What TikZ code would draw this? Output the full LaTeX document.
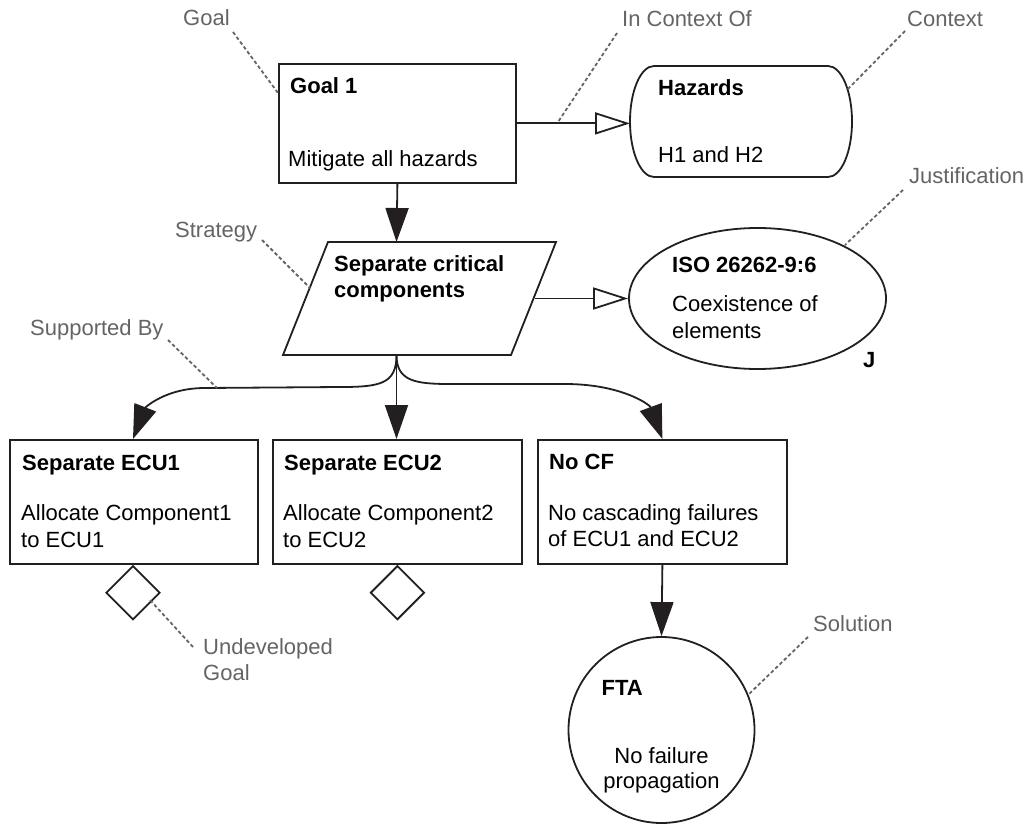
\documentclass[tikz,border=0pt]{standalone}
\usepackage{fontspec}
\setmainfont{Liberation Sans}
\usetikzlibrary{arrows.meta,shapes.geometric}
\definecolor{ink}{RGB}{35,31,32}
\definecolor{notegray}{RGB}{100,100,100}
\definecolor{dotgray}{RGB}{100,100,100}
\begin{document}
\begin{tikzpicture}[x=1pt,y=-1pt,
  every node/.style={font=\fontsize{22}{27}\selectfont},
  outline/.style={draw=ink, line width=1.8pt},
  box/.style={outline, rectangle, inner sep=0pt, anchor=north west},
  title/.style={anchor=base west, inner sep=0pt, font=\fontsize{22}{27}\selectfont\bfseries},
  body/.style={anchor=base west, inner sep=0pt},
  note/.style={anchor=base west, inner sep=0pt, text=notegray},
  pointer/.style={draw=dotgray, line width=1.8pt, dash pattern=on 3.5pt off 2.5pt},
  supported/.style={draw=ink, line width=1.8pt, -{Triangle[length=34pt,width=23pt]}},
  incontext/.style={draw=ink, line width=1.8pt, -{Triangle[open,length=35pt,width=22pt,fill=white]}},
]
\useasboundingbox (0,0) rectangle (1027,824);

% ---------- goal ----------
\node[box, minimum width=237pt, minimum height=119pt] (g1) at (278,63) {};
\node[title] (g1t) at (290,94) {Goal 1};
\node[body] (g1d) at (288,166) {Mitigate all hazards};

% ---------- context ----------
\node[rectangle, inner sep=0pt, anchor=north west, minimum width=222pt, minimum height=111pt] (haz) at (630,66) {};
\draw[outline] (654,66) -- (828,66)
  arc[start angle=90, end angle=-90, x radius=24pt, y radius=55.5pt]
  -- (654,177)
  arc[start angle=270, end angle=90, x radius=24pt, y radius=55.5pt] -- cycle;
\node[title] (hazt) at (658,96) {Hazards};
\node[body] (hazd) at (658,162) {H1 and H2};

% ---------- strategy ----------
\draw[outline] (328,242) -- (556,242) -- (511,355) -- (283,355) -- cycle;
\coordinate (strTop) at (396.5,242);
\coordinate (strBot) at (396.5,355);
\coordinate (strRight) at (535,298.5);
\node[title] (strt1) at (334,271) {Separate critical};
\node[title] (strt2) at (334,297) {components};

% ---------- justification ----------
\node[outline, ellipse, minimum width=257pt, minimum height=141pt, inner sep=0pt] (iso) at (757.5,298.5) {};
\node[title] (isot) at (672,272) {ISO 26262-9:6};
\node[body] (isod1) at (672,311) {Coexistence of};
\node[body] (isod2) at (672,338) {elements};
\node[title] (isoj) at (863,367) {J};

% ---------- sub-goals ----------
\node[box, minimum width=248pt, minimum height=124pt] (ecu1) at (9,439) {};
\node[title] (ecu1t) at (22,470) {Separate ECU1};
\node[body] (ecu1d1) at (21,520) {Allocate Component1};
\node[body] (ecu1d2) at (21,547) {to ECU1};

\node[box, minimum width=249pt, minimum height=124pt] (ecu2) at (272,439) {};
\node[title] (ecu2t) at (284,470) {Separate ECU2};
\node[body] (ecu2d1) at (283,520) {Allocate Component2};
\node[body] (ecu2d2) at (283,547) {to ECU2};

\node[box, minimum width=249pt, minimum height=124pt] (nocf) at (537,439) {};
\node[title] (nocft) at (549,469) {No CF};
\node[body] (nocfd1) at (548,520) {No cascading failures};
\node[body] (nocfd2) at (548,546) {of ECU1 and ECU2};

% undeveloped markers
\coordinate (e1in) at (133,439);
\node[outline, diamond, minimum width=54pt, minimum height=54pt, inner sep=0pt, anchor=north] (und1) at (e1in |- ecu1.south) {};
\node[outline, diamond, minimum width=54pt, minimum height=54pt, inner sep=0pt, anchor=north] (und2) at (ecu2.south) {};

% ---------- solution ----------
\node[outline, circle, minimum size=186pt, inner sep=0pt] (fta) at (661.5,730) {};
\node[title, anchor=base east] (ftat) at (643,695) {FTA};
\node[inner sep=0pt, anchor=base] (ftad1) at (661.5,763) {No failure};
\node[inner sep=0pt, anchor=base] (ftad2) at (661.5,788) {propagation};

% ---------- connectors ----------
\draw[supported] (g1.south) -- (strTop);
\draw[incontext] (g1.east) -- (g1.east -| haz.west);
\draw[incontext] (strRight) -- (iso.west);
\draw[supported] (strBot) .. controls (396.5,384) and (380,387) .. (340,387)
  -- (205,388) .. controls (165,388) and (145,408) .. (e1in);
\draw[supported] (strBot) -- (strBot |- ecu2.north);
\draw[supported] (strBot) .. controls (396.5,381) and (415,384) .. (450,384)
  -- (565,384) .. controls (622,384) and (650,405) .. (nocf.north);
\draw[supported] (nocf.south) -- (fta.north);

% ---------- element annotations ----------
\node[note] (nGoal) at (183,26) {Goal};
\node[note] (nInCtx) at (622,27) {In Context Of};
\node[note] (nCtx) at (907,27) {Context};
\node[note] (nJust) at (909,183) {Justification};
\node[note] (nStrat) at (175,237) {Strategy};
\node[note] (nSupp) at (30,335) {Supported By};
\node[note] (nUnd1) at (203,654) {Undeveloped};
\node[note] (nUnd2) at (203,680) {Goal};
\node[note] (nSol) at (813,631) {Solution};

\coordinate (pGoalA) at (233,32);   \coordinate (pGoalB) at (278,93);
\coordinate (pInA) at (617,33);     \coordinate (pInB) at (558,122);
\coordinate (pCtxA) at (905,31);    \coordinate (pCtxB) at (847,90);
\coordinate (pJusA) at (903,190);   \coordinate (pJusB) at (845,245);
\coordinate (pStrA) at (262,240);   \coordinate (pStrB) at (310,288);
\coordinate (pSupA) at (168,340);   \coordinate (pSupB) at (217,388);
\coordinate (pUndA) at (193,647);   \coordinate (pUndB) at (150,600);
\coordinate (pSolA) at (808,637);   \coordinate (pSolB) at (748,695);

\draw[pointer] (pGoalA) -- (pGoalB);
\draw[pointer] (pInA) -- (pInB);
\draw[pointer] (pCtxA) -- (pCtxB);
\draw[pointer] (pJusA) -- (pJusB);
\draw[pointer] (pStrA) -- (pStrB);
\draw[pointer] (pSupA) -- (pSupB);
\draw[pointer] (pUndA) -- (pUndB);
\draw[pointer] (pSolA) -- (pSolB);
\end{tikzpicture}
\end{document}
